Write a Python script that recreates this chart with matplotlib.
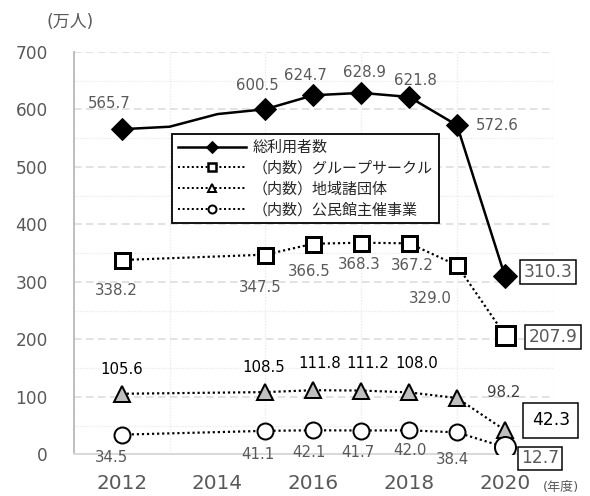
import numpy as np
import matplotlib
matplotlib.use("Agg")
import matplotlib.pyplot as plt
from matplotlib.lines import Line2D

plt.rcParams['font.family'] = ['DejaVu Sans', 'Noto Sans CJK JP']

# --- data (万人) ---------------------------------------------------------
years_total = [2012, 2013, 2014, 2015, 2016, 2017, 2018, 2019, 2020]
total = [565.7, 570.0, 592.0, 600.5, 624.7, 628.9, 621.8, 572.6, 310.3]

years = [2012, 2015, 2016, 2017, 2018, 2019, 2020]
group = [338.2, 347.5, 366.5, 368.3, 367.2, 329.0, 207.9]
region = [105.6, 108.5, 111.8, 111.2, 108.0, 98.2, 42.3]
kominkan = [34.5, 41.1, 42.1, 41.7, 42.0, 38.4, 12.7]

names = ['総利用者数', '（内数）グループサークル', '（内数）地域諸団体', '（内数）公民館主催事業']
x_ticks = [2012, 2014, 2016, 2018, 2020]

# label offsets in pixels (dpi = 72, so points == pixels)
off_total = [(-12, 26), None, None, (-8, 24), (-8, 20), (3, 20), (6, 16), (40, 0)]
off_group = [(-5, -30), (-5, -33), (-4, -28), (-2, -22), (3, -22), (-27, -33)]
off_region = [(0, 24), (-2, 25), (6, 27), (7, 27), (8, 29), (47, 6)]
off_kominkan = [(-10, -23), (-7, -24), (-4, -22), (-3, -22), (1, -20), (-5, -27)]

GRAY = '#595959'

fig = plt.figure(figsize=(590 / 72, 496 / 72), dpi=72)
ax = fig.add_axes([0.125, 0.0837, 0.812, 0.8115])

ax.set_xlim(2011, 2021)
ax.set_ylim(0, 700)

# grid
ax.set_yticks(np.arange(0, 701, 100))
ax.set_yticks(np.arange(50, 700, 100), minor=True)
ax.set_xticks(x_ticks)
ax.set_xticks(np.arange(2011, 2022, 1), minor=True)
ax.grid(axis='y', which='major', color='#d9d9d9', linestyle=(0, (5, 3)), lw=1.5, zorder=0)
ax.grid(axis='y', which='minor', color='#e6e6e6', linestyle=(0, (1, 1.5)), lw=1.2, zorder=0)
ax.grid(axis='x', which='minor', color='#e6e6e6', linestyle=(0, (1, 1.5)), lw=1.2, zorder=0)
ax.grid(axis='x', which='major', visible=False)
for s in ['top', 'right']:
    ax.spines[s].set_visible(False)
ax.spines['left'].set_color('#bfbfbf')
ax.spines['left'].set_linewidth(2)
ax.spines['bottom'].set_color('#d9d9d9')
ax.spines['bottom'].set_linewidth(2)
ax.tick_params(which='both', length=0)
ax.tick_params(axis='y', labelsize=17, labelcolor=GRAY, pad=26)
ax.tick_params(axis='x', labelsize=20, labelcolor=GRAY, pad=20)

dots = (0, (1, 1.3))

# lines
mk_total = [i for i in range(len(years_total)) if i not in (1, 2)]
ax.plot(years_total, total, color='black', lw=2.5, marker='D', ms=15,
        markevery=mk_total[:-1], zorder=5)
ax.plot(years_total[-1], total[-1], 'D', color='black', ms=17, zorder=6)

ax.plot(years, group, color='black', lw=2.2, ls=dots, marker='s', ms=15,
        mfc='white', mec='black', mew=3, markevery=list(range(len(years) - 1)), zorder=4)
ax.plot(years[-1], group[-1], 's', ms=19, mfc='white', mec='black', mew=3, zorder=4)

ax.plot(years, region, color='black', lw=2.2, ls=dots, marker='^', ms=16,
        mfc='#bfbfbf', mec='black', mew=2, zorder=4)

ax.plot(years, kominkan, color='black', lw=2.2, ls=dots, marker='o', ms=16,
        mfc='white', mec='black', mew=2, markevery=list(range(len(years) - 1)), zorder=4)
ax.plot(years[-1], kominkan[-1], 'o', ms=21, mfc='white', mec='black', mew=2, zorder=4)

# value labels
def put_labels(xs, ys, offs, color):
    for xv, yv, o in zip(xs, ys, offs):
        if o is None:
            continue
        ax.annotate(f'{yv:.1f}', (xv, yv), xytext=o, textcoords='offset points',
                    ha='center', va='center', fontsize=15, color=color, zorder=7)

put_labels(years_total[:-1], total[:-1], off_total, GRAY)
put_labels(years[:-1], group[:-1], off_group, GRAY)
put_labels(years[:-2], region[:-2], off_region[:-1], 'black')
put_labels(years[-2:-1], region[-2:-1], off_region[-1:], '#404040')
put_labels(years[:-1], kominkan[:-1], off_kominkan, GRAY)

# boxed 2020 labels
def box_label(xv, yv, off, color, pad):
    ax.annotate(f'{yv:.1f}', (xv, yv), xytext=off, textcoords='offset points',
                ha='center', va='center', fontsize=17, color=color, zorder=8,
                bbox=dict(boxstyle=f'square,pad={pad}', fc='white', ec='black', lw=1.5))

box_label(years_total[-1], total[-1], (43, 4), GRAY, 0.2)
box_label(years[-1], group[-1], (48, -2), GRAY, 0.2)
box_label(years[-1], region[-1], (46, 10), 'black', 0.5)
box_label(years[-1], kominkan[-1], (35, -11), GRAY, 0.15)

# legend
handles = [
    Line2D([], [], color='black', lw=2.5, marker='D', ms=8),
    Line2D([], [], color='black', lw=2, ls=(0, (1, 1.3)), marker='s', ms=8, mfc='white', mew=2.5),
    Line2D([], [], color='black', lw=2, ls=(0, (1, 1.3)), marker='^', ms=8, mfc='white', mew=2),
    Line2D([], [], color='black', lw=2, ls=(0, (1, 1.3)), marker='o', ms=8, mfc='white', mew=2),
]
leg = fig.legend(handles, names, loc='upper left', bbox_to_anchor=(172 / 590, 1 - 134 / 496),
                 bbox_transform=fig.transFigure, fontsize=15, frameon=True, fancybox=False,
                 edgecolor='black', framealpha=1, handlelength=4.5, handletextpad=0.5,
                 labelspacing=0.38, borderpad=0.4, borderaxespad=0)
leg.get_frame().set_linewidth(1.8)
leg.set_zorder(9)
for t in leg.get_texts():
    t.set_color('#262626')

fig.text(70 / 590, 1 - 22 / 496, '(万人)', ha='center', va='center', fontsize=17, color=GRAY)
fig.text(561 / 590, 1 - 487 / 496, '(年度)', ha='center', va='center', fontsize=13, color=GRAY)

fig.savefig('out.png', dpi=72)
